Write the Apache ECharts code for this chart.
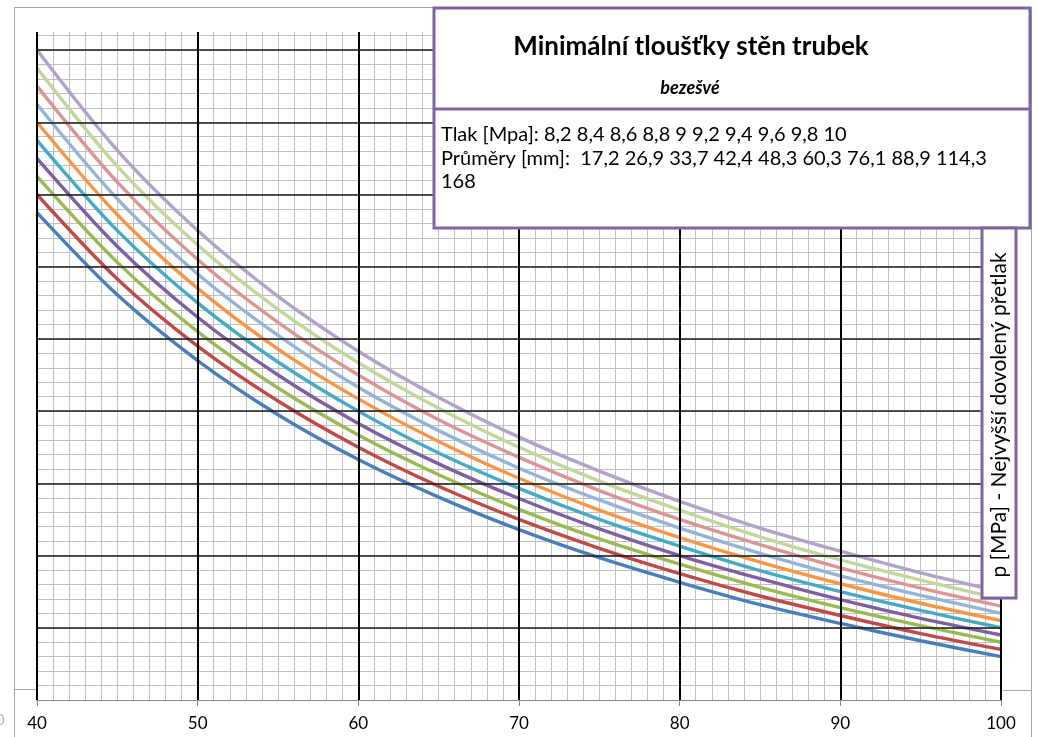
<!DOCTYPE html>
<html>
<head>
<meta charset="utf-8">
<script src="https://cdn.jsdelivr.net/npm/echarts@6/dist/echarts.min.js"></script>
<style>
  html, body { margin: 0; padding: 0; background: #fff; }
  #chart { width: 1038px; height: 737px; }
</style>
</head>
<body>
<div id="chart"></div>
<script>
var xValues = [40, 45, 50, 55, 60, 65, 70, 75, 80, 85, 90, 95, 100];

// one curve per pressure (MPa), values read against the hidden y axis
var p82  = [6.75, 5.61, 4.70, 3.95, 3.33, 2.81, 2.36, 1.97, 1.63, 1.32, 1.06, 0.82, 0.60];
var p84  = [7.00, 5.83, 4.90, 4.14, 3.50, 2.96, 2.50, 2.10, 1.75, 1.44, 1.17, 0.92, 0.70];
var p86  = [7.25, 6.06, 5.10, 4.32, 3.67, 3.12, 2.64, 2.23, 1.88, 1.56, 1.28, 1.03, 0.80];
var p88  = [7.50, 6.28, 5.30, 4.50, 3.83, 3.27, 2.79, 2.37, 2.00, 1.68, 1.39, 1.13, 0.90];
var p90  = [7.75, 6.50, 5.50, 4.68, 4.00, 3.42, 2.93, 2.50, 2.13, 1.79, 1.50, 1.24, 1.00];
var p92  = [8.00, 6.72, 5.70, 4.86, 4.17, 3.58, 3.07, 2.63, 2.25, 1.91, 1.61, 1.34, 1.10];
var p94  = [8.25, 6.94, 5.90, 5.05, 4.33, 3.73, 3.21, 2.77, 2.38, 2.03, 1.72, 1.45, 1.20];
var p96  = [8.50, 7.17, 6.10, 5.23, 4.50, 3.88, 3.36, 2.90, 2.50, 2.15, 1.83, 1.55, 1.30];
var p98  = [8.75, 7.39, 6.30, 5.41, 4.67, 4.04, 3.50, 3.03, 2.63, 2.26, 1.94, 1.66, 1.40];
var p100 = [9.00, 7.61, 6.50, 5.59, 4.83, 4.19, 3.64, 3.17, 2.75, 2.38, 2.06, 1.76, 1.50];

var seriesNames = ['8,2', '8,4', '8,6', '8,8', '9', '9,2', '9,4', '9,6', '9,8', '10'];
var seriesData = [p82, p84, p86, p88, p90, p92, p94, p96, p98, p100];
var colors = ['#4A7EBB', '#BE4B48', '#98B954', '#7D60A0', '#46AAC5',
              '#F79646', '#95B3D7', '#D99694', '#C3D69B', '#B3A2C7'];

var titleText = 'Minimální tloušťky stěn trubek';
var subtitleText = 'bezešvé';
var noteText = 'Tlak [Mpa]: 8,2 8,4 8,6 8,8 9 9,2 9,4 9,6 9,8 10\n' +
               'Průměry [mm]:  17,2 26,9 33,7 42,4 48,3 60,3 76,1 88,9 114,3\n' +
               '168';
var yAxisTitle = 'p [MPa] - Nejvyšší dovolený přetlak';

var font = 'Lato, "Open Sans", sans-serif';
var chart = echarts.init(document.getElementById('chart'));

var series = seriesData.map(function (vals, i) {
  return {
    name: seriesNames[i],
    type: 'line',
    xAxisIndex: 1,
    yAxisIndex: 1,
    data: xValues.map(function (x, j) { return [x, vals[j]]; }),
    smooth: 0.3,
    showSymbol: false,
    lineStyle: { color: colors[i], width: 3.4 },
    z: 3
  };
});

var frame = '#A6A6A6';
var purple = '#8064A2';

var option = {
  animation: false,
  color: colors,
  textStyle: { fontFamily: font },
  grid: { left: 37, right: 37, top: 32, bottom: 37 },
  xAxis: [
    {
      type: 'value', min: 40, max: 100, interval: 1, position: 'top',
      axisLine: { show: false }, axisTick: { show: false }, axisLabel: { show: false },
      splitLine: { show: true, lineStyle: { color: '#C0C0C0', width: 1 } },
      z: 0
    },
    {
      type: 'value', min: 40, max: 100, interval: 10, position: 'bottom',
      axisLine: { show: true, lineStyle: { color: '#868686', width: 1 } },
      axisTick: { show: true, length: 6, lineStyle: { color: '#868686' } },
      axisLabel: { color: '#000', fontSize: 17, margin: 15, fontFamily: font },
      splitLine: { show: true, lineStyle: { color: '#000', width: 2 } },
      z: 5
    }
  ],
  yAxis: [
    {
      type: 'value', min: 0, max: 9.25, interval: 0.2,
      axisLine: { show: false }, axisTick: { show: false }, axisLabel: { show: false },
      splitLine: { show: true, showMinLine: false, showMaxLine: false, lineStyle: { color: '#C0C0C0', width: 1 } },
      z: 0
    },
    {
      type: 'value', min: 0, max: 9.25, interval: 1,
      axisLine: { show: false }, axisTick: { show: false }, axisLabel: { show: false },
      splitLine: { show: true, showMinLine: false, showMaxLine: false, lineStyle: { color: '#1A1A1A', width: 1.6 } },
      z: 4
    }
  ],
  series: series,
  graphic: [
    { type: 'line', shape: { x1: 14.5, y1: 7.5, x2: 14.5, y2: 737 }, style: { stroke: frame, lineWidth: 1 }, z: 10 },
    { type: 'line', shape: { x1: 14.5, y1: 7.5, x2: 1031.5, y2: 7.5 }, style: { stroke: frame, lineWidth: 1 }, z: 10 },
    { type: 'line', shape: { x1: 1031.5, y1: 7.5, x2: 1031.5, y2: 737 }, style: { stroke: frame, lineWidth: 1 }, z: 10 },
    { type: 'line', shape: { x1: 14.5, y1: 689.5, x2: 36, y2: 689.5 }, style: { stroke: frame, lineWidth: 1 }, z: 10 },
    { type: 'line', shape: { x1: 1003, y1: 690.5, x2: 1031.5, y2: 690.5 }, style: { stroke: frame, lineWidth: 1 }, z: 10 },
    { type: 'text', left: -4, top: 713, style: { text: '0', fill: '#bbb', font: '15px ' + font }, z: 10 },
    // title box
    { type: 'rect', shape: { x: 434, y: 8, width: 596, height: 220 },
      style: { fill: '#fff', stroke: purple, lineWidth: 3 }, z: 20 },
    { type: 'line', shape: { x1: 434, y1: 109, x2: 1030, y2: 109 }, style: { stroke: purple, lineWidth: 3 }, z: 21 },
    { type: 'text', x: 691, y: 47, z: 22,
      style: { text: titleText, fill: '#000', font: 'bold 26px ' + font, align: 'center', verticalAlign: 'middle' } },
    { type: 'text', x: 690, y: 88, z: 22,
      style: { text: subtitleText, fill: '#000', font: 'italic bold 18px ' + font, align: 'center', verticalAlign: 'middle' } },
    { type: 'text', x: 441, y: 123, z: 22,
      style: { text: noteText, fill: '#000', font: '20px ' + font, lineHeight: 23.5, align: 'left', verticalAlign: 'top' } },
    // right axis title box
    { type: 'rect', shape: { x: 982, y: 228, width: 34, height: 370 },
      style: { fill: '#fff', stroke: purple, lineWidth: 3 }, z: 20 },
    { type: 'text', x: 999, y: 415, rotation: Math.PI / 2, z: 22,
      style: { text: yAxisTitle, fill: '#000', font: '21px ' + font, align: 'center', verticalAlign: 'middle' } }
  ]
};

chart.setOption(option);
</script>
</body>
</html>
